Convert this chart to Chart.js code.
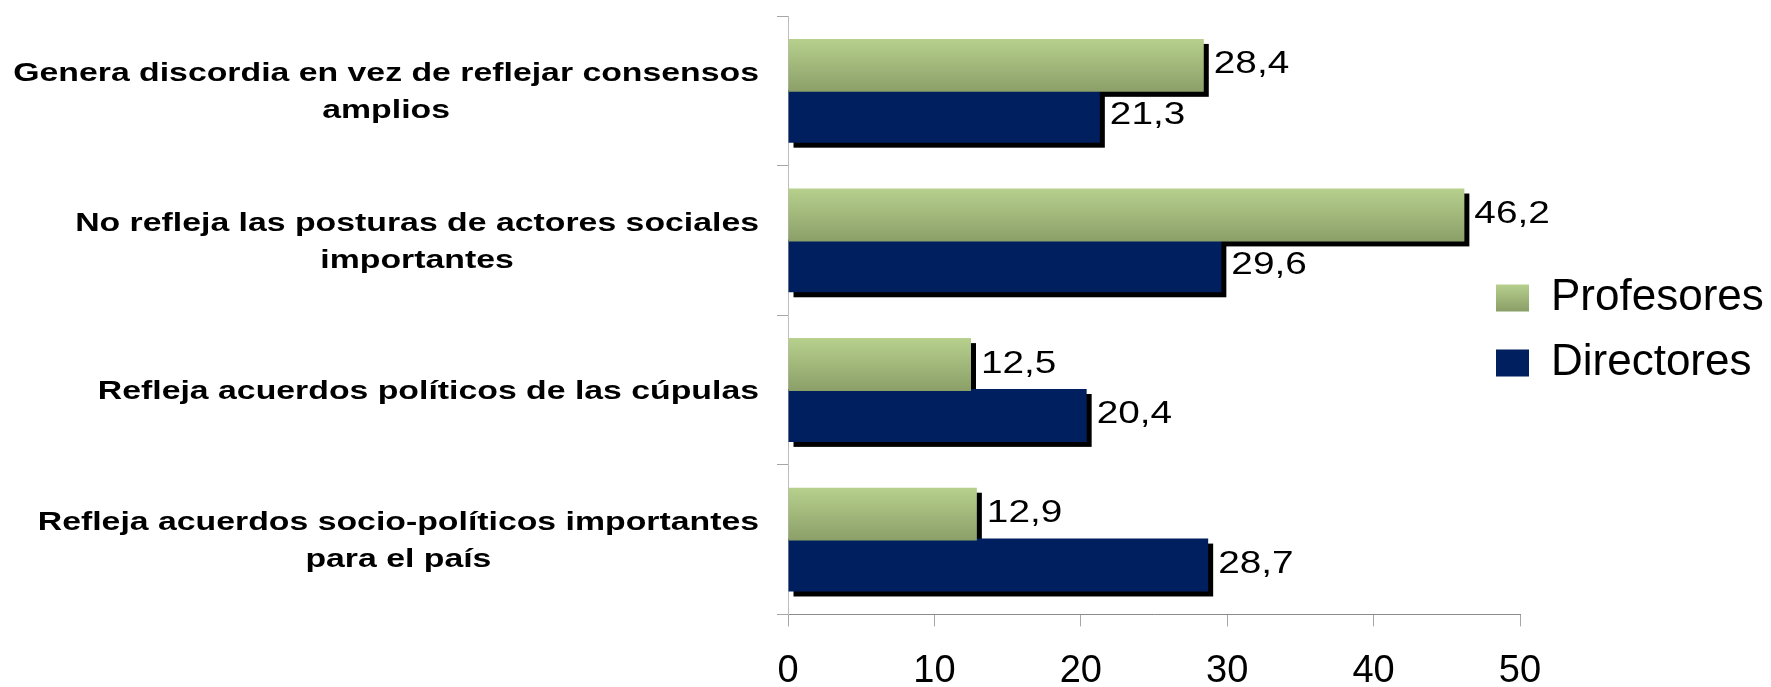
<!DOCTYPE html>
<html>
<head>
<meta charset="utf-8">
<script src="https://cdn.jsdelivr.net/npm/chart.js@4.4.1/dist/chart.umd.min.js"></script>
<style>
  html, body { margin: 0; padding: 0; background: #fff; overflow: hidden; }
  #wrap { position: relative; width: 1771px; height: 716px; }
</style>
</head>
<body>
<div id="wrap"><canvas id="grafico"></canvas></div>
<script>
  /* ===================== DATOS ===================== */

  const categorias = [
    ['Genera discordia en vez de reflejar consensos', 'amplios'],
    ['No refleja las posturas de actores sociales', 'importantes'],
    ['Refleja acuerdos políticos de las cúpulas'],
    ['Refleja acuerdos socio-políticos importantes', 'para el país']
  ];
  const series = ['Profesores', 'Directores'];
  const profesores = [28.4, 46.2, 12.5, 12.9];
  const directores = [21.3, 29.6, 20.4, 28.7];
  const ticksX = [0, 10, 20, 30, 40, 50];

  /* ===================== ESTILO ===================== */

  const FUENTE = '"Liberation Sans", Arial, sans-serif';
  const VERDE_ARRIBA = '#b7d08d';
  const VERDE_ABAJO = '#8b9f68';
  const AZUL = '#001f5e';
  const ESTIRA_CAT = 1.30;   // el original está ensanchado horizontalmente
  const ESTIRA_VAL = 1.25;

  let degradado = (ctx, y0, y1) => {
    let g = ctx.createLinearGradient(0, y0, 0, y1);
    g.addColorStop(0, VERDE_ARRIBA);
    g.addColorStop(1, VERDE_ABAJO);
    return g;
  };

  /* ===================== PLUGINS ===================== */

  // sombras negras de todas las barras primero, luego degradado de las verdes
  const sombras = {
    id: 'sombras',
    beforeDatasetsDraw(chart) {
      let ctx = chart.ctx;
      ctx.save();
      ctx.fillStyle = '#000';
      chart.data.datasets.forEach((ds, i) => {
        chart.getDatasetMeta(i).data.forEach(bar => {
          ctx.fillRect(bar.base + 5, bar.y - bar.height / 2 + 5, bar.x - bar.base, bar.height);
        });
      });
      ctx.restore();

      chart.getDatasetMeta(0).data.forEach(bar => {
        let g = degradado(ctx, bar.y - bar.height / 2, bar.y + bar.height / 2);
        bar.options = Object.assign({}, bar.options, { backgroundColor: g });
      });
    }
  };

  // leyenda sobre el borde derecho del área
  const leyendaPos = {
    id: 'leyendaPos',
    afterLayout(chart) {
      let lg = chart.legend;
      let pad = lg.options.labels.padding;
      lg.left = chart.chartArea.right - 24 - pad;
      lg.right = lg.left + lg.width;
      lg.top = 276 - pad;
      lg.bottom = chart.chartArea.bottom;
    }
  };

  // etiquetas de categorías y valores (texto ensanchado)
  const textos = {
    id: 'textos',
    afterDatasetsDraw(chart) {
      let { ctx, scales: { x, y } } = chart;
      ctx.save();
      ctx.fillStyle = '#000';
      ctx.textBaseline = 'alphabetic';
      ctx.textAlign = 'center';

      ctx.font = 'bold 26px ' + FUENTE;
      categorias.forEach((lineas, i) => {
        let cy = y.getPixelForValue(i);
        let bloque = Math.max(...lineas.map(l => ctx.measureText(l).width * ESTIRA_CAT));
        let cx = x.left - 29 - bloque / 2;
        lineas.forEach((l, j) => {
          let by = cy + (j - (lineas.length - 1) / 2) * 37 + 9;
          ctx.save();
          ctx.translate(cx, by);
          ctx.scale(ESTIRA_CAT, 1);
          ctx.fillText(l, 0, 0);
          ctx.restore();
        });
      });

      ctx.font = '31px ' + FUENTE;
      ctx.textAlign = 'left';
      chart.data.datasets.forEach((ds, i) => {
        chart.getDatasetMeta(i).data.forEach((bar, j) => {
          let txt = ds.data[j].toFixed(1).replace('.', ',');
          ctx.save();
          ctx.translate(bar.x + 10, bar.y + 8);
          ctx.scale(ESTIRA_VAL, 1);
          ctx.fillText(txt, 0, 0);
          ctx.restore();
        });
      });
      ctx.restore();
    }
  };

  /* ===================== GRÁFICO ===================== */

  let grafico = new Chart(document.getElementById('grafico'), {
    type: 'bar',
    data: {
      labels: categorias,
      datasets: [
        { label: series[0], data: profesores, backgroundColor: VERDE_ARRIBA },
        { label: series[1], data: directores, backgroundColor: AZUL }
      ]
    },
    options: {
      indexAxis: 'y',
      responsive: true,
      maintainAspectRatio: false,
      animation: false,
      categoryPercentage: 0.68,
      barPercentage: 1.04,
      layout: { padding: { left: 777, right: 251, top: 16, bottom: 0 } },
      scales: {
        x: {
          min: 0,
          max: 50,
          afterBuildTicks: s => { s.ticks = ticksX.map(v => ({ value: v })); },
          grid: { drawOnChartArea: false, drawTicks: true, tickLength: 12, color: '#a6a6a6' },
          border: { color: '#8c8c8c' },
          ticks: {
            color: '#000',
            font: { size: 38, family: FUENTE },
            padding: 22,
            maxRotation: 0,
            autoSkip: false
          }
        },
        y: {
          afterFit: s => { s.width = 11; },
          grid: { drawOnChartArea: false, tickLength: 11, color: '#a6a6a6', offset: true },
          border: { color: '#bdbdbd' },
          ticks: { display: false }
        }
      },
      plugins: {
        tooltip: { enabled: false },
        legend: {
          position: 'chartArea',
          align: 'start',
          labels: {
            color: '#000',
            font: { size: 44, family: FUENTE },
            boxWidth: 33,
            boxHeight: 27,
            padding: 21,
            generateLabels(chart) {
              let items = Chart.defaults.plugins.legend.labels.generateLabels(chart);
              let top = chart.legend.top + chart.legend.options.labels.padding + 8;
              items[0].fillStyle = degradado(chart.ctx, top, top + 27);
              items.forEach(it => { it.lineWidth = 0; it.strokeStyle = 'rgba(0,0,0,0)'; });
              return items;
            }
          }
        }
      }
    },
    plugins: [sombras, leyendaPos, textos]
  });
</script>
</body>
</html>
